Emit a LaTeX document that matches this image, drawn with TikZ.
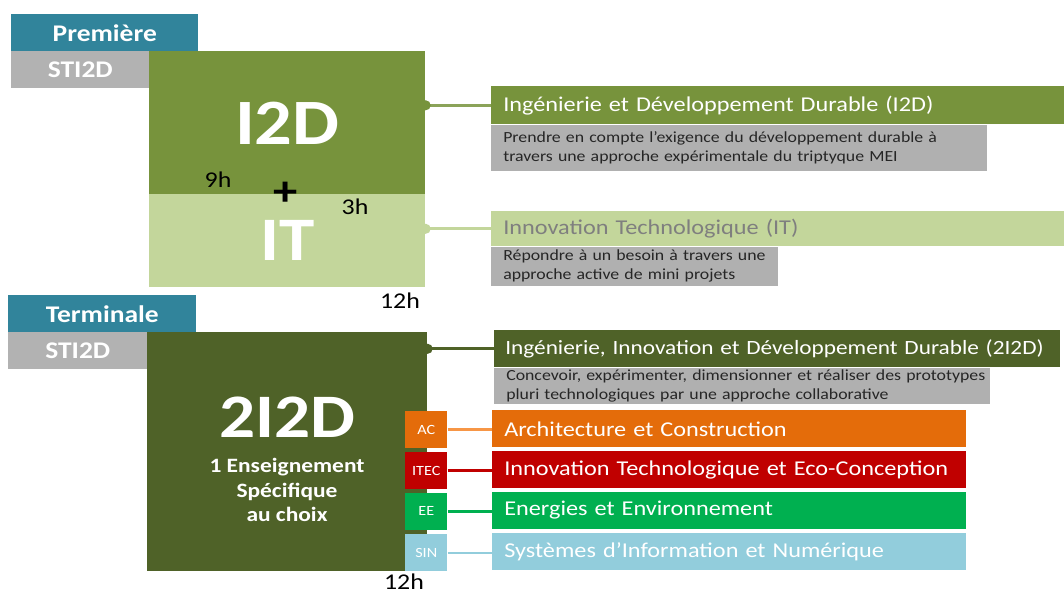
\documentclass[tikz,border=0pt]{standalone}
\usepackage{fontspec}
\setmainfont[FakeStretch=1.15]{Carlito}
\usetikzlibrary{positioning,calc}

\definecolor{bleuNiv}{HTML}{31849B}
\definecolor{grisSec}{HTML}{B2B2B2}
\definecolor{grisDesc}{HTML}{B0B0B0}
\definecolor{vertI2D}{HTML}{77933C}
\definecolor{vertIT}{HTML}{C3D69B}
\definecolor{vertTerm}{HTML}{4F6228}
\definecolor{orangeAC}{HTML}{E46C0A}
\definecolor{orangeLien}{HTML}{F79646}
\definecolor{rougeITEC}{HTML}{C00000}
\definecolor{vertEE}{HTML}{00B050}
\definecolor{bleuSIN}{HTML}{92CDDC}
\definecolor{texteGris}{HTML}{7F7F7F}
\definecolor{texteNoir}{HTML}{262626}

\begin{document}
\begin{tikzpicture}[x=0.025cm,y=-0.025cm,
    blk/.style={rectangle,anchor=north west,inner sep=0,text=white,
      font=\bfseries\fontsize{17}{19}\selectfont},
    bar/.style={rectangle,anchor=north west,inner xsep=0.3cm,inner ysep=0,
      text width=#1,align=left,text=white,
      font=\fontsize{15}{17}\selectfont},
    desc/.style={rectangle,anchor=north west,fill=grisDesc,inner xsep=0.3cm,
      inner ysep=0,text width=#1,align=left,text=texteNoir,
      font=\fontsize{11}{13.5}\selectfont},
    tag/.style={rectangle,inner sep=0,minimum width=1.05cm,minimum height=0.925cm,
      text=white,font=\fontsize{10}{12}\selectfont},
    opt/.style={bar=11.25cm,minimum height=0.925cm},
    heure/.style={font=\fontsize{16}{17}\selectfont,text=black},
    link/.style={line width=2pt},
    node distance=0.08cm]
  \useasboundingbox (0,0) rectangle (1064,594);

  % Premiere
  \node[blk,fill=bleuNiv,minimum width=4.675cm,minimum height=0.925cm] (prem) at (11,14) {Première};
  \node[blk,fill=grisSec,minimum width=3.45cm,minimum height=0.925cm] (sti1) at (11,51) {STI2D};
  \node[blk,fill=vertI2D,minimum width=6.9cm,minimum height=3.575cm,
    font=\bfseries\fontsize{46}{46}\selectfont] (i2d) at (149,51) {I2D};
  \node[blk,fill=vertIT,minimum width=6.9cm,minimum height=2.325cm,
    font=\bfseries\fontsize{44}{44}\selectfont] (it) at (149,194) {IT};
  \node[heure] (h9) at (218,180) {9h};
  \node[font=\bfseries\fontsize{30}{30}\selectfont] (plus) at (286,194) {+};
  \node[heure] (h3) at (355,207) {3h};
  \node[heure] (h12a) at (400,301) {12h};

  \node[bar=13.725cm,fill=vertI2D,minimum height=0.95cm] (i2dbar) at (491,86)
    {Ingénierie et Développement Durable (I2D)};
  \node[desc=11.8cm,minimum height=1.15cm] (i2ddesc) at (i2dbar.south west)
    {Prendre en compte l’exigence du développement durable à\\
     travers une approche expérimentale du triptyque MEI};
  \node[bar=13.725cm,fill=vertIT,minimum height=0.875cm,text=texteGris] (itbar) at (491,211)
    {Innovation Technologique (IT)};
  \node[desc=6.575cm,minimum height=0.975cm] (itdesc) at (itbar.south west)
    {Répondre à un besoin à travers une\\
     approche active de mini projets};

  \draw[link,vertI2D!85!white] (i2d.east |- i2dbar.west) -- (i2dbar.west);
  \fill[vertI2D] (i2d.east |- i2dbar.west) circle (3.6pt);
  \draw[link,vertIT] (it.east |- itbar.west) -- (itbar.west);
  \fill[vertIT] (it.east |- itbar.west) circle (3.6pt);

  % Terminale
  \node[blk,fill=bleuNiv,minimum width=4.7cm,minimum height=0.925cm] (term) at (8,295) {Terminale};
  \node[blk,fill=grisSec,minimum width=3.475cm,minimum height=0.925cm] (sti2) at (8,332) {STI2D};
  \node[blk,fill=vertTerm,minimum width=7cm,minimum height=5.975cm] (tii2d) at (147,332) {};
  \node[text=white,font=\bfseries\fontsize{44}{44}\selectfont] (titre2i2d) at (287,417) {2I2D};
  \node[text=white,align=center,font=\bfseries\fontsize{14.5}{17.7}\selectfont] (choix) at (287,490)
    {1 Enseignement\\Spécifique\\au choix};
  \node[heure] (h12b) at (404,582) {12h};

  \node[bar=13.6cm,fill=vertTerm,minimum height=0.925cm,inner xsep=0.275cm,
    font=\fontsize{14.4}{17}\selectfont] (tbar) at (494,330)
    {\mbox{Ingénierie, Innovation et Développement Durable (2I2D)}};
  \node[desc=11.8cm,minimum height=0.9cm] (tdesc) at (tbar.south west)
    {\mbox{Concevoir, expérimenter, dimensionner et réaliser des prototypes}\\
     pluri technologiques par une approche collaborative};
  \draw[link,vertTerm] (tii2d.east |- tbar.west) -- (tbar.west);
  \fill[vertTerm] (tii2d.east |- tbar.west) circle (3.6pt);

  % enseignements specifiques
  \node[tag,fill=orangeAC,anchor=north west] (ac) at (405,411) {AC};
  \node[tag,fill=rougeITEC,below=of ac] (itec) {ITEC};
  \node[tag,fill=vertEE,below=of itec] (ee) {EE};
  \node[tag,fill=bleuSIN,below=0.1cm of ee] (sin) {SIN};

  \node[opt,fill=orangeAC] (acbar) at (492,410) {Architecture et Construction};
  \node[opt,fill=rougeITEC,below=of acbar] (itecbar) {Innovation Technologique et Eco-Conception};
  \node[opt,fill=vertEE,below=of itecbar] (eebar) {Energies et Environnement};
  \node[opt,fill=bleuSIN,below=0.1cm of eebar] (sinbar) {Systèmes d’Information et Numérique};

  \draw[link,orangeLien] (ac.east) -- (ac.east -| acbar.west);
  \draw[link,rougeITEC] (itec.east) -- (itec.east -| itecbar.west);
  \draw[link,vertEE] (ee.east) -- (ee.east -| eebar.west);
  \draw[link,bleuSIN] (sin.east) -- (sin.east -| sinbar.west);
\end{tikzpicture}
\end{document}
